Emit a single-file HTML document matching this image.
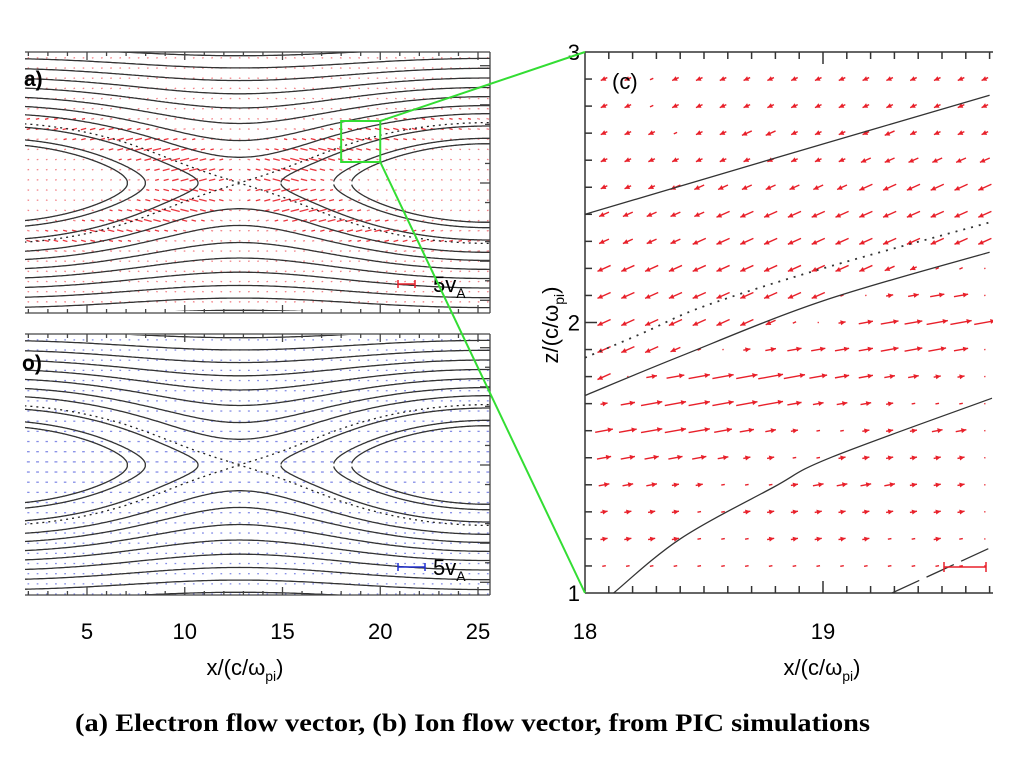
<!DOCTYPE html>
<html><head><meta charset="utf-8"><style>
html,body{margin:0;padding:0;background:#fff;}
svg{display:block;font-family:"Liberation Sans",sans-serif;}
</style></head><body>
<svg id="fig" width="1024" height="768" viewBox="0 0 1024 768">
<defs>
<clipPath id="clipA"><rect x="25" y="52" width="465" height="259"/></clipPath>
<clipPath id="clipB"><rect x="25" y="335" width="465" height="260"/></clipPath>
<clipPath id="clipC"><rect x="585" y="52" width="408" height="541"/></clipPath>
</defs>
<g id="panelA"></g>
<g id="panelB"></g>
<g id="panelC"></g>
<g id="labels">
<text x="24" y="86" font-size="21" font-weight="bold">a)</text>
<text x="22" y="370" font-size="21" font-weight="bold">o)</text>
<text x="433" y="292" font-size="22">5v<tspan font-size="14" dy="6">A</tspan></text>
<text x="433" y="575" font-size="22">5v<tspan font-size="14" dy="6">A</tspan></text>
<text x="245" y="675" font-size="22" text-anchor="middle">x/(c/ω<tspan font-size="14" dy="6">pi</tspan><tspan dy="-6">)</tspan></text>
<text x="822" y="675" font-size="22" text-anchor="middle">x/(c/ω<tspan font-size="14" dy="6">pi</tspan><tspan dy="-6">)</tspan></text>
<text transform="translate(558,325) rotate(-90)" font-size="22" text-anchor="middle">z/(c/ω<tspan font-size="14" dy="6">pi</tspan><tspan dy="-6">)</tspan></text>
<text x="612" y="89" font-size="22">(c)</text>
<text x="75" y="731" font-size="25" font-weight="bold" font-family="Liberation Serif, serif" textLength="795" lengthAdjust="spacingAndGlyphs">(a) Electron flow vector, (b) Ion flow vector, from PIC simulations</text>
</g>
</svg>
<script>
// ---- data ----
const xTicksLeft = [5, 10, 15, 20, 25];
const xTicksC = [18, 19];
const zTicksC = [1, 2, 3];
const fluxLevelsOpen = [3.35, 4.1, 4.9, 5.7, 6.5, 7.3, 8.1, 8.9];
const fluxLevelsIsland = [2.17, 0.95, 0.41];
const fluxSeparatrix = [2.5];
// panel c field lines (x, z)
const lineC1X = [18, 18.5, 19, 19.7];
const lineC1Z = [2.40, 2.53, 2.66, 2.84];
const lineC2X = [18, 18.4, 19, 19.7];
const lineC2Z = [1.73, 1.875, 2.08, 2.26];
const lineC3X = [18.12, 18.4, 18.79, 19.03, 19.71];
const lineC3Z = [1.0, 1.2, 1.39, 1.5, 1.72];
const dotCX = [18, 18.24, 18.5, 19, 19.7];
const dotCZ = [1.87, 1.96, 2.06, 2.2, 2.37];
const dashCX = [19.29, 19.71];
const dashCZ = [1.0, 1.17];
// panel c arrow grid (u components, digits; sign = direction)
const colXC = [18.08,18.18,18.28,18.38,18.48,18.58,18.68,18.78,18.88,18.98,19.08,19.18,19.28,19.38,19.48,19.58,19.68];
const rowZC = [2.9,2.8,2.7,2.6,2.5,2.4,2.3,2.2,2.1,2.0,1.9,1.8,1.7,1.6,1.5,1.4,1.3,1.2,1.1];
const rowU = [
[-2,-2,-1,-2,-2,-2,-2,-2,-2,-2,-2,-2,-2,-2,-2,-2,-2],
[-2,-2,-1,-2,-2,-2,-2,-2,-2,-2,-2,-2,-2,-2,-2,-2,-2],
[-2,-2,-2,-1,-2,-2,-3,-3,-2,-2,-2,-2,-3,-2,-2,-2,-2],
[-2,-2,-2,-2,-2,-2,-2,-2,-2,-2,-2,-3,-3,-3,-3,-3,-3],
[-2,-2,-2,-3,-3,-3,-3,-3,-3,-3,-3,-4,-4,-4,-4,-4,-4],
[-3,-3,-3,-3,-3,-4,-4,-4,-4,-4,-4,-4,-4,-4,-4,-4,-4],
[-3,-3,-3,-3,-4,-4,-4,-4,-4,-4,-4,-4,-4,-4,-4,-4,-4],
[-4,-4,-4,-4,-4,-4,-4,-4,-4,-4,-4,-4,-3,-2,-1,-1,0],
[-4,-4,-4,-4,-4,-4,-4,-4,-4,-4,-1,0,2,3,4,4,0],
[-4,-4,-4,-4,-4,-4,-4,-3,-1,0,2,4,5,5,6,6,6],
[-4,-4,-4,-3,-1,0,2,3,4,4,4,4,5,5,5,4,0],
[-4,0,3,5,6,6,6,7,6,5,4,4,3,3,2,2,0],
[2,4,6,6,6,6,6,7,4,3,3,3,2,1,1,1,0],
[5,5,6,6,6,5,4,3,2,1,1,2,2,2,3,3,0],
[4,4,4,4,4,3,2,2,1,1,2,2,2,2,2,2,0],
[3,3,3,2,2,1,1,1,2,3,3,3,3,2,2,2,0],
[2,2,2,2,1,1,2,2,2,2,2,2,2,2,2,2,0],
[2,2,2,2,1,1,1,2,2,2,2,2,1,1,2,1,0],
[1,1,1,1,1,1,1,1,1,1,1,1,1,1,1,1,0]
];
// ---- helpers ----
const NS = "http://www.w3.org/2000/svg";
function mk(tag, attrs, parent){const e=document.createElementNS(NS,tag);for(const k in attrs)e.setAttribute(k,attrs[k]);parent.appendChild(e);return e;}
const W=0.7, EPS=2.5, D=2.3, XC=12.8, PER=25.6;
function psi(x,z){const ph=2*Math.PI*(x-XC)/PER;return Math.log(Math.cosh(z/W))+EPS*Math.cos(ph)/Math.cosh(z/D);}
function solveZ(x,L){ if(psi(x,0)>L) return null; let lo=0,hi=9; if(psi(x,hi)<L) return hi; for(let i=0;i<40;i++){const m=(lo+hi)/2; if(psi(x,m)<L)lo=m; else hi=m;} return (lo+hi)/2; }
const sx = x => -10.75 + 19.55*x;
function drawBig(g, cz, clip, color, isA){
  const top=cz-131;
  const cg=mk('g',{'clip-path':'url(#'+clip+')'},g);
  
  
  const sz = z => cz - 19.55*z;
  for(let x=2.0;x<25.6;x+=0.47){
    for(let z=-6.6;z<=6.6;z+=0.52){
      const p=psi(x,z); let len=1.6, ang=0;
      if(isA){
        const near=Math.exp(-Math.pow((p-EPS)/1.1,2));
        const dx=x-XC; const away=Math.min(1,Math.abs(dx)/2.5);
        len=1.6+9*near*away*Math.exp(-Math.pow(Math.abs(dx)/9,2));
        ang=(dx>0?0:Math.PI)+0.25*Math.sign(z)*(dx>0?-1:1);
      } else {
        len=1.6+1.5*Math.exp(-Math.abs(z)/2);
      }
      const X=sx(x), Z=sz(z);
      const ln=mk('line',{x1:X-len/2*Math.cos(ang),y1:Z+len/2*Math.sin(ang),x2:X+len/2*Math.cos(ang),y2:Z-len/2*Math.sin(ang),stroke:color,'stroke-width':1.3,opacity:len>3?0.9:0.55},cg);
      
      
    }
  }
  const lg=mk('g',{'clip-path':'url(#'+clip+')',fill:'none',stroke:'#333','stroke-width':1.3},g);
  
  
  fluxLevelsOpen.forEach(L=>{
    [1,-1].forEach(s=>{
      let d='';
      for(let x=1.8;x<=25.7;x+=0.1){const z=solveZ(x,L); if(z===null)continue; d+=(d?'L':'M')+sx(x).toFixed(1)+','+sz(s*z).toFixed(1);}
      const pth=mk('path',{d:d},lg);
      
      
    });
  });
  fluxSeparatrix.forEach(L=>{
    [1,-1].forEach(s=>{
      let d='';
      for(let x=1.8;x<=25.7;x+=0.1){const z=solveZ(x,L+0.001); if(z===null)continue; d+=(d?'L':'M')+sx(x).toFixed(1)+','+sz(s*z).toFixed(1);}
      const pth=mk('path',{d:d,'stroke-dasharray':'2,4',stroke:'#222'},lg);
      
      
    });
  });
  fluxLevelsIsland.forEach(L=>{
    [[1.8,XC],[XC,25.7]].forEach(r=>{
      const up=[];
      for(let x=r[0];x<=r[1];x+=0.02){const z=solveZ(x,L); if(z!==null)up.push([x,z]);}
      if(!up.length)return;
      let d='';
      up.forEach(p=>{d+=(d?'L':'M')+sx(p[0]).toFixed(1)+','+sz(p[1]).toFixed(1);});
      for(let i=up.length-1;i>=0;i--){d+='L'+sx(up[i][0]).toFixed(1)+','+sz(-up[i][1]).toFixed(1);}
      const pth=mk('path',{d:d},lg);
      
      
    });
  });
  const bot=cz+130;
  const fr=mk('g',{stroke:'#444','stroke-width':1.3,fill:'none'},g);
  
  
  mk('line',{x1:25,y1:top,x2:490,y2:top},fr);
  mk('line',{x1:25,y1:bot,x2:490,y2:bot},fr);
  mk('line',{x1:490,y1:top,x2:490,y2:bot},fr);
  for(let x=2;x<=25.6;x+=1){
    const major=(x%5===0); const X=sx(x); const h=major?8:4;
    mk('line',{x1:X,y1:top,x2:X,y2:top+h},fr);
    mk('line',{x1:X,y1:bot,x2:X,y2:bot-h},fr);
  }
  for(let z=-6;z<=6;z+=1){const Z=sz(z); mk('line',{x1:490,y1:Z,x2:490-(z%2===0?10:5),y2:Z},fr);}
  const by=cz+(isA?101:102);
  const sb=mk('g',{stroke:color,'stroke-width':1.5},g);
  
  
  const x2=isA?415:425;
  mk('line',{x1:398,y1:by,x2:x2,y2:by},sb);
  mk('line',{x1:398,y1:by-4,x2:398,y2:by+4},sb);
  mk('line',{x1:x2,y1:by-4,x2:x2,y2:by+4},sb);
}
drawBig(document.getElementById('panelA'),183,'clipA','#e8202a',true);
drawBig(document.getElementById('panelB'),465,'clipB','#2030d0',false);

const lab=document.getElementById('labels');
xTicksLeft.forEach(v=>{
  const t=mk('text',{x:sx(v),y:639,'font-size':22,'text-anchor':'middle'},lab);
  t.textContent=v;
  
  
});

// panel c
const pc=document.getElementById('panelC');
const cx = x => 585 + 238*(x-18);
const cy = z => 593 - 270.5*(z-1);
const cg=mk('g',{'clip-path':'url(#clipC)'},pc);
rowZC.forEach((z,ri)=>{
  colXC.forEach((x,ci)=>{
    const u=rowU[ri][ci];
    const L=Math.max(1.2,Math.abs(u)*3.6);
    const dir=u<0?-1:1;
    const vy=u<0?0.45:0.18;
    const n=Math.hypot(1,vy);
    const ux=dir/n, uy=(u<0?vy:-vy)/n;
    const X=cx(x), Y=cy(z);
    const x1=X-ux*L/2,y1=Y-uy*L/2,x2=X+ux*L/2,y2=Y+uy*L/2;
    const a=mk('g',{stroke:'#e8202a','stroke-width':1.4,fill:'#e8202a'},cg);
    
    
    mk('line',{x1:x1,y1:y1,x2:x2,y2:y2},a);
    if(L>6){const hx=-ux*5,hy=-uy*5;
      mk('polygon',{points:`${x2},${y2} ${x2+hx-uy*2.5},${y2+hy+ux*2.5} ${x2+hx+uy*2.5},${y2+hy-ux*2.5}`,stroke:'none'},a);}
  });
});
function cline(xs,zs,extra,name){
  const P=xs.map((x,i)=>[cx(x),cy(zs[i])]);
  let d='M'+P[0][0].toFixed(1)+','+P[0][1].toFixed(1);
  for(let i=0;i<P.length-1;i++){
    const p0=P[Math.max(0,i-1)],p1=P[i],p2=P[i+1],p3=P[Math.min(P.length-1,i+2)];
    const c1=[p1[0]+(p2[0]-p0[0])/6,p1[1]+(p2[1]-p0[1])/6];
    const c2=[p2[0]-(p3[0]-p1[0])/6,p2[1]-(p3[1]-p1[1])/6];
    d+=`C${c1[0].toFixed(1)},${c1[1].toFixed(1)} ${c2[0].toFixed(1)},${c2[1].toFixed(1)} ${p2[0].toFixed(1)},${p2[1].toFixed(1)}`;
  }
  const p=mk('path',Object.assign({d:d,fill:'none',stroke:'#333','stroke-width':1.3},extra),cg);
  
  
}
cline(lineC1X,lineC1Z,{},'field-line-c1');
cline(lineC2X,lineC2Z,{},'field-line-c2');
cline(lineC3X,lineC3Z,{},'field-line-c3');
cline(dotCX,dotCZ,{'stroke-dasharray':'2,6','stroke-width':1.8},'separatrix-c');
cline(dashCX,dashCZ,{'stroke-dasharray':'30,8'},'field-line-c4');
const ax=mk('g',{stroke:'#333','stroke-width':1.5,fill:'none'},pc);


mk('line',{x1:585,y1:52,x2:585,y2:593},ax);
mk('line',{x1:585,y1:593,x2:993,y2:593},ax);
mk('line',{x1:585,y1:52,x2:993,y2:52},ax);
for(let i=1;i<=17;i++){const X=cx(18+i*0.1);const h=(i===10)?12:7;
  mk('line',{x1:X,y1:593,x2:X,y2:593-h},ax);mk('line',{x1:X,y1:52,x2:X,y2:52+h},ax);}
for(let i=1;i<20;i++){const Y=cy(1+i*0.1);const h=(i===10)?12:7;mk('line',{x1:585,y1:Y,x2:585+h,y2:Y},ax);}
xTicksC.forEach(v=>{
  const t=mk('text',{x:cx(v),y:639,'font-size':22,'text-anchor':'middle'},lab);
  t.textContent=v;
  
  
});
zTicksC.forEach(v=>{
  const t=mk('text',{x:580,y:cy(v)+8,'font-size':22,'text-anchor':'end'},lab);
  t.textContent=v;
  
  
});
const sbc=mk('g',{stroke:'#e8202a','stroke-width':1.5},pc);


mk('line',{x1:944,y1:567,x2:986,y2:567},sbc);
mk('line',{x1:944,y1:562,x2:944,y2:572},sbc);
mk('line',{x1:986,y1:562,x2:986,y2:572},sbc);
const fig=document.getElementById('fig');
const zb=mk('g',{stroke:'#33dd33','stroke-width':2,fill:'none'},fig);


mk('rect',{x:sx(18),y:121,width:sx(20)-sx(18),height:41},zb);
mk('line',{x1:sx(20),y1:121,x2:585,y2:52},zb);
mk('line',{x1:sx(20),y1:162,x2:585,y2:593},zb);
</script>
</body></html>
